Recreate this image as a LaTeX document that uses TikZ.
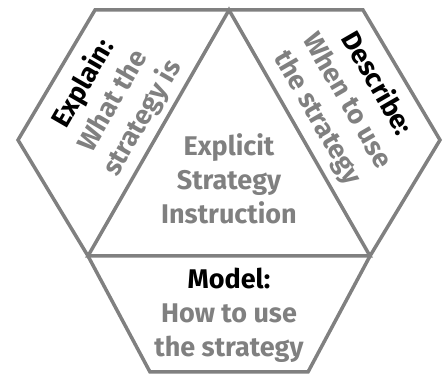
\documentclass[tikz,border=0pt]{standalone}
\usepackage{fontspec}
\setmainfont{Fira Sans}
\definecolor{edgegray}{RGB}{128,128,128}
\definecolor{txtgray}{RGB}{128,128,128}

\begin{document}
\begin{tikzpicture}[x=1pt,y=1pt,
    edge/.style={draw=edgegray,line width=3.5pt,line join=miter},
    blocktext/.style={align=center,inner sep=0pt,text=txtgray,
      font=\fontsize{27}{34}\selectfont\bfseries}]
  \useasboundingbox (0,0) rectangle (447,377);
  % outer hexagon corners
  \coordinate (tl) at (95,367);
  \coordinate (tr) at (363,367);
  \coordinate (r)  at (440,237);
  \coordinate (br) at (308,5);
  \coordinate (bl) at (150,5);
  \coordinate (l)  at (18,237);
  % inner triangle
  \coordinate (a) at (229,367);
  \coordinate (b) at (88,121);
  \coordinate (c) at (370,121);
  \draw[edge] (tl) -- (a) -- (tr) -- (r) -- (c) -- (br) -- (bl) -- (b) -- (l) -- cycle;
  \draw[edge] (a) -- (b) -- (c) -- cycle;
  % texts
  \node[blocktext] (centre) at (229,198) {Explicit\\Strategy\\Instruction};
  \node[blocktext,rotate=60] (explain) at (113,276)
    {{\color{black}Explain:}\\What the\\strategy is};
  \node[blocktext,rotate=-60] (describe) at (347,276)
    {{\color{black}Describe:}\\When to use\\the strategy};
  \node[blocktext] (model) at (229,62)
    {{\color{black}Model:}\\How to use\\the strategy};
\end{tikzpicture}
\end{document}
